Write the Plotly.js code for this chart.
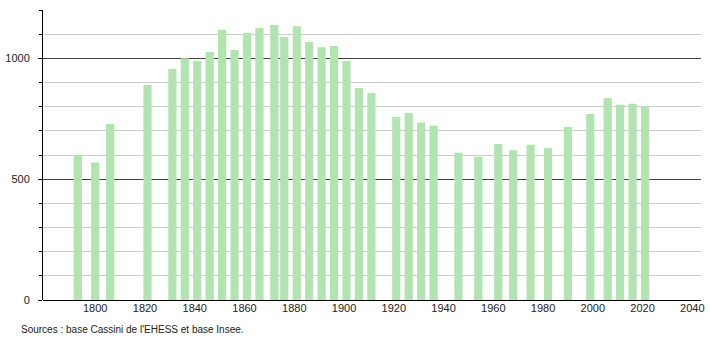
<!DOCTYPE html>
<html>
<head>
<meta charset="utf-8">
<script src="https://cdn.plot.ly/plotly-3.0.1.min.js"></script>
<style>
html,body{margin:0;padding:0;background:#fff;}
#chart{width:710px;height:340px;}
</style>
</head>
<body>
<div id="chart"></div>
<script>
const years = [1793,1800,1806,1821,1831,1836,1841,1846,1851,1856,1861,1866,1872,1876,1881,1886,1891,1896,1901,1906,1911,1921,1926,1931,1936,1946,1954,1962,1968,1975,1982,1990,1999,2006,2011,2016,2021];
const population = [597,569,728,890,956,1000,989,1026,1118,1035,1105,1126,1138,1088,1133,1068,1046,1051,989,877,857,757,774,735,721,609,593,646,620,642,629,716,770,835,808,812,801];
const yTickVals = [0,500,1000];
const yTickText = ['0','500','1000'];
const xTickVals = [1800,1820,1840,1860,1880,1900,1920,1940,1960,1980,2000,2020,2040];
const sourceText = "Sources : base Cassini de l'EHESS et base Insee.";

const trace = {
  type: 'bar',
  x: years,
  y: population,
  width: 3.3,
  marker: {color: 'rgb(178,228,178)', line: {width: 0}},
  hoverinfo: 'x+y'
};

const layout = {
  width: 710, height: 340,
  margin: {l: 43, r: 9, t: 10, b: 40},
  paper_bgcolor: '#fff', plot_bgcolor: '#fff',
  showlegend: false,
  font: {family: 'Liberation Sans, Arial, sans-serif', size: 11, color: '#222'},
  xaxis: {
    range: [1779, 2043.5],
    tickvals: xTickVals,
    ticks: '', showgrid: false, zeroline: false,
    showline: false,
    tickfont: {size: 11, color: '#222'}
  },
  yaxis: {
    range: [0, 1200],
    tickvals: yTickVals, ticktext: yTickText,
    ticks: 'outside', ticklen: 4, tickcolor: '#000', tickwidth: 1,
    showgrid: true, gridcolor: '#444', gridwidth: 1,
    zeroline: true, zerolinecolor: '#000', zerolinewidth: 1,
    showline: true, linecolor: '#000', linewidth: 1,
    ticklabelstandoff: 6,
    tickfont: {size: 11, color: '#222'},
    minor: {dtick: 100, tick0: 0, showgrid: true, gridcolor: '#cccccc', gridwidth: 1, ticks: 'outside', ticklen: 3, tickcolor: '#000'}
  },
  annotations: [{
    text: sourceText, xref: 'paper', yref: 'paper',
    x: -0.036, y: -0.075, xanchor: 'left', yanchor: 'top',
    showarrow: false, font: {size: 10, color: '#222'}
  }]
};

Plotly.newPlot('chart', [trace], layout, {displayModeBar: false, staticPlot: true});
</script>
</body>
</html>
